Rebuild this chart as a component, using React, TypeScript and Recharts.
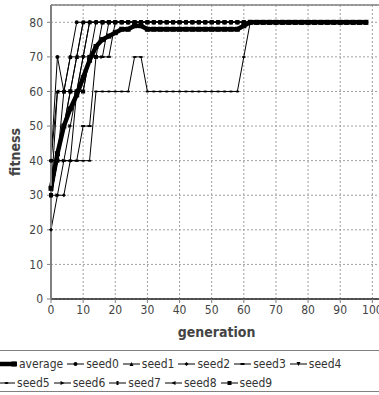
import {
  CartesianGrid,
  Line,
  LineChart,
  ReferenceLine,
  XAxis,
  YAxis,
} from "recharts";

const FONT = '"DejaVu Sans Condensed", "DejaVu Sans", sans-serif';

// sampled every 2 generations
const generations = [
  0, 2, 4, 6, 8, 10, 12, 14, 16, 18,
  20, 22, 24, 26, 28, 30, 32, 34, 36, 38,
  40, 42, 44, 46, 48, 50, 52, 54, 56, 58,
  60, 62, 64, 66, 68, 70, 72, 74, 76, 78,
  80, 82, 84, 86, 88, 90, 92, 94, 96, 98,
];

const average = [
  32, 42, 50, 55, 59, 64, 69, 73, 75, 76,
  77, 78, 78, 79, 79, 78, 78, 78, 78, 78,
  78, 78, 78, 78, 78, 78, 78, 78, 78, 78,
  79, 80, 80, 80, 80, 80, 80, 80, 80, 80,
  80, 80, 80, 80, 80, 80, 80, 80, 80, 80,
];
const seed0 = [
  40, 70, 60, 70, 80, 80, 80, 80, 80, 80,
  80, 80, 80, 80, 80, 80, 80, 80, 80, 80,
  80, 80, 80, 80, 80, 80, 80, 80, 80, 80,
  80, 80, 80, 80, 80, 80, 80, 80, 80, 80,
  80, 80, 80, 80, 80, 80, 80, 80, 80, 80,
];
const seed1 = [
  30, 60, 60, 70, 70, 80, 80, 80, 80, 80,
  80, 80, 80, 80, 80, 80, 80, 80, 80, 80,
  80, 80, 80, 80, 80, 80, 80, 80, 80, 80,
  80, 80, 80, 80, 80, 80, 80, 80, 80, 80,
  80, 80, 80, 80, 80, 80, 80, 80, 80, 80,
];
const seed2 = [
  20, 30, 30, 40, 60, 70, 80, 80, 80, 80,
  80, 80, 80, 80, 80, 80, 80, 80, 80, 80,
  80, 80, 80, 80, 80, 80, 80, 80, 80, 80,
  80, 80, 80, 80, 80, 80, 80, 80, 80, 80,
  80, 80, 80, 80, 80, 80, 80, 80, 80, 80,
];
const seed3 = [
  40, 40, 40, 40, 40, 50, 50, 70, 70, 70,
  80, 80, 80, 80, 80, 80, 80, 80, 80, 80,
  80, 80, 80, 80, 80, 80, 80, 80, 80, 80,
  80, 80, 80, 80, 80, 80, 80, 80, 80, 80,
  80, 80, 80, 80, 80, 80, 80, 80, 80, 80,
];
const seed4 = [
  30, 40, 50, 60, 60, 70, 70, 80, 80, 80,
  80, 80, 80, 80, 80, 80, 80, 80, 80, 80,
  80, 80, 80, 80, 80, 80, 80, 80, 80, 80,
  80, 80, 80, 80, 80, 80, 80, 80, 80, 80,
  80, 80, 80, 80, 80, 80, 80, 80, 80, 80,
];
const seed5 = [
  40, 40, 40, 40, 40, 40, 40, 60, 60, 60,
  60, 60, 60, 70, 70, 60, 60, 60, 60, 60,
  60, 60, 60, 60, 60, 60, 60, 60, 60, 60,
  70, 80, 80, 80, 80, 80, 80, 80, 80, 80,
  80, 80, 80, 80, 80, 80, 80, 80, 80, 80,
];
const seed6 = [
  30, 30, 40, 50, 60, 60, 70, 70, 70, 80,
  80, 80, 80, 80, 80, 80, 80, 80, 80, 80,
  80, 80, 80, 80, 80, 80, 80, 80, 80, 80,
  80, 80, 80, 80, 80, 80, 80, 80, 80, 80,
  80, 80, 80, 80, 80, 80, 80, 80, 80, 80,
];
const seed7 = [
  30, 40, 60, 60, 70, 70, 80, 80, 80, 80,
  80, 80, 80, 80, 80, 80, 80, 80, 80, 80,
  80, 80, 80, 80, 80, 80, 80, 80, 80, 80,
  80, 80, 80, 80, 80, 80, 80, 80, 80, 80,
  80, 80, 80, 80, 80, 80, 80, 80, 80, 80,
];
const seed8 = [
  40, 60, 60, 60, 70, 80, 80, 80, 80, 80,
  80, 80, 80, 80, 80, 80, 80, 80, 80, 80,
  80, 80, 80, 80, 80, 80, 80, 80, 80, 80,
  80, 80, 80, 80, 80, 80, 80, 80, 80, 80,
  80, 80, 80, 80, 80, 80, 80, 80, 80, 80,
];
const seed9 = [
  30, 40, 50, 60, 60, 60, 70, 70, 80, 80,
  80, 80, 80, 80, 80, 80, 80, 80, 80, 80,
  80, 80, 80, 80, 80, 80, 80, 80, 80, 80,
  80, 80, 80, 80, 80, 80, 80, 80, 80, 80,
  80, 80, 80, 80, 80, 80, 80, 80, 80, 80,
];

const xTicks = [0, 10, 20, 30, 40, 50, 60, 70, 80, 90, 100];
const yTicks = [0, 10, 20, 30, 40, 50, 60, 70, 80];

const seriesNames = [
  "average", "seed0", "seed1", "seed2", "seed3",
  "seed4", "seed5", "seed6", "seed7", "seed8", "seed9",
];
const seriesValues = [
  average, seed0, seed1, seed2, seed3, seed4, seed5, seed6, seed7, seed8, seed9,
];
// jfreechart-ish default shape sequence
const shapes = [
  "square", "circle", "triUp", "diamond", "hrect", "triDown",
  "ellipse", "triRight", "vrect", "triLeft", "square",
];

const data = generations.map((g, i) => {
  const row: Record<string, number> = { generation: g };
  seriesNames.forEach((name, s) => {
    row[name] = seriesValues[s][i];
  });
  return row;
});

function Marker({ shape, cx, cy, s = 2 }: { shape: string; cx: number; cy: number; s?: number }) {
  const fill = "#000";
  switch (shape) {
    case "square":
      return <rect x={cx - s} y={cy - s} width={s * 2} height={s * 2} fill={fill} />;
    case "circle":
      return <circle cx={cx} cy={cy} r={s} fill={fill} />;
    case "triUp":
      return <polygon points={`${cx},${cy - s} ${cx + s},${cy + s} ${cx - s},${cy + s}`} fill={fill} />;
    case "triDown":
      return <polygon points={`${cx - s},${cy - s} ${cx + s},${cy - s} ${cx},${cy + s}`} fill={fill} />;
    case "triRight":
      return <polygon points={`${cx - s},${cy - s} ${cx + s},${cy} ${cx - s},${cy + s}`} fill={fill} />;
    case "triLeft":
      return <polygon points={`${cx + s},${cy - s} ${cx - s},${cy} ${cx + s},${cy + s}`} fill={fill} />;
    case "diamond":
      return <polygon points={`${cx},${cy - s} ${cx + s},${cy} ${cx},${cy + s} ${cx - s},${cy}`} fill={fill} />;
    case "hrect":
      return <rect x={cx - s} y={cy - s / 2} width={s * 2} height={s} fill={fill} />;
    case "vrect":
      return <rect x={cx - s / 2} y={cy - s} width={s} height={s * 2} fill={fill} />;
    case "ellipse":
      return <ellipse cx={cx} cy={cy} rx={s} ry={s / 2} fill={fill} />;
    default:
      return null;
  }
}

function LegendItem({ name, idx }: { name: string; idx: number }) {
  const thick = idx === 0;
  return (
    <div style={{ display: "flex", alignItems: "center", marginRight: 4 }}>
      <svg width={17} height={10} style={{ marginRight: 2 }}>
        <line x1={0} y1={5} x2={17} y2={5} stroke="#000" strokeWidth={thick ? 4.5 : 1} />
        <Marker shape={shapes[idx]} cx={thick ? 14 : 8.5} cy={5} s={thick ? 2.5 : 2} />
      </svg>
      <span>{name}</span>
    </div>
  );
}

export default function App() {
  return (
    <div
      style={{
        position: "absolute",
        left: 0,
        top: 0,
        width: 379,
        height: 395,
        overflow: "hidden",
        background: "#fff",
      }}
    >
      <LineChart
        width={400}
        height={345}
        data={data}
        margin={{ top: 5, right: 18, bottom: 0, left: 0 }}
      >
        <CartesianGrid stroke="#a0a0a0" strokeDasharray="2 2" />
        <ReferenceLine y={85} stroke="#808080" strokeWidth={1.5} />
        <XAxis
          type="number"
          dataKey="generation"
          domain={[0, 103]}
          ticks={xTicks}
          interval={0}
          height={46}
          tickSize={4}
          tickMargin={2}
          axisLine={{ stroke: "#222", strokeWidth: 1.5 }}
          tickLine={{ stroke: "#808080" }}
          tick={{ fontSize: 12, fill: "#444", fontFamily: FONT }}
          label={{
            value: "generation",
            position: "insideBottom",
            offset: 8,
            style: { fontSize: 14, fontWeight: "bold", fill: "#444", fontFamily: FONT },
          }}
        />
        <YAxis
          type="number"
          domain={[0, 85]}
          ticks={yTicks}
          interval={0}
          width={51}
          tickSize={4}
          tickMargin={4}
          axisLine={{ stroke: "#808080", strokeWidth: 2 }}
          tickLine={{ stroke: "#808080" }}
          tick={{ fontSize: 12, fill: "#444", fontFamily: FONT }}
          label={{
            value: "fitness",
            angle: -90,
            position: "insideLeft",
            offset: 15,
            style: {
              textAnchor: "middle",
              fontSize: 14,
              fontWeight: "bold",
              fill: "#444",
              fontFamily: FONT,
            },
          }}
        />
        {seriesNames.map((name, idx) => (
          <Line
            key={name}
            type="linear"
            dataKey={name}
            stroke="#000"
            strokeWidth={idx === 0 ? 4.5 : 1}
            activeDot={false}
            isAnimationActive={false}
            dot={(p: any) => (
              <Marker
                key={`${name}-${p.index}`}
                shape={shapes[idx]}
                cx={p.cx}
                cy={p.cy}
                s={idx === 0 ? 2.5 : 2}
              />
            )}
          />
        ))}
      </LineChart>
      <div
        style={{
          position: "absolute",
          left: -2,
          top: 350,
          width: 400,
          height: 42,
          borderTop: "1.5px solid #808080",
          borderBottom: "1.5px solid #808080",
          fontFamily: FONT,
          fontSize: 12,
          color: "#333",
          paddingTop: 3,
          boxSizing: "border-box",
        }}
      >
        <div style={{ display: "flex", height: 19, marginLeft: 2 }}>
          {seriesNames.slice(0, 6).map((n, i) => (
            <LegendItem key={n} name={n} idx={i} />
          ))}
        </div>
        <div style={{ display: "flex", height: 19 }}>
          {seriesNames.slice(6).map((n, i) => (
            <LegendItem key={n} name={n} idx={i + 6} />
          ))}
        </div>
      </div>
    </div>
  );
}
